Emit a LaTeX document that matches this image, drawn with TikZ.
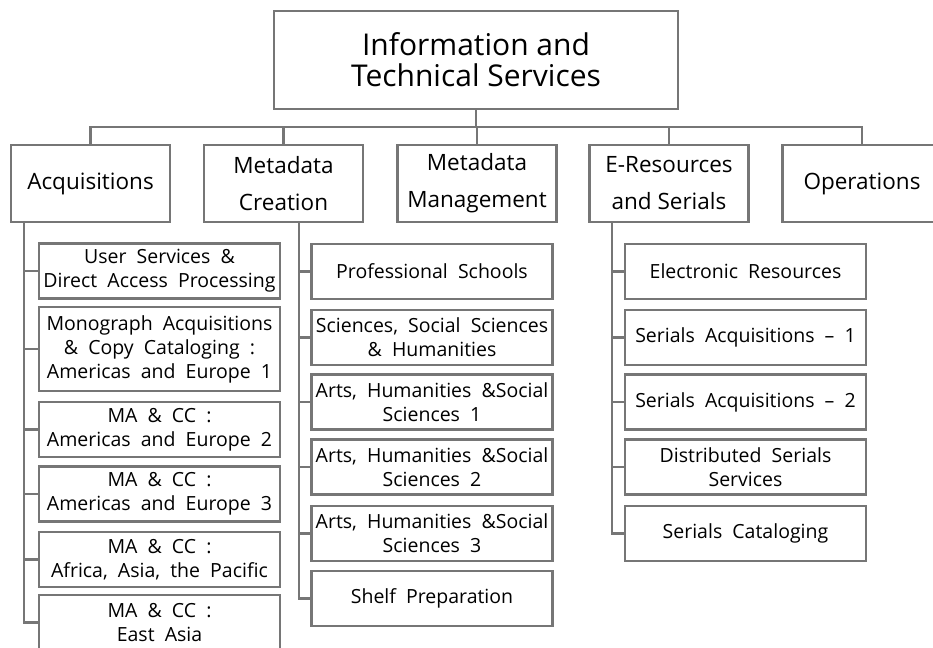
\documentclass[tikz,border=0pt]{standalone}
\usepackage{fontspec}
\setmainfont{Open Sans}
\newfontfamily\unitfont[WordSpace=2.0]{Open Sans}
\usetikzlibrary{positioning}
\definecolor{linegray}{RGB}{118,118,118}

\begin{document}
\begin{tikzpicture}[
    x=1pt, y=-1pt,
    head/.style={rectangle, draw=linegray, line width=2.5pt, minimum width=404pt, minimum height=98pt, align=center, font=\fontsize{30}{31}\selectfont},
    dept/.style={rectangle, draw=linegray, line width=2.5pt, minimum width=159pt, minimum height=77pt, inner sep=2pt, align=center, font=\fontsize{22.5}{37}\selectfont},
    unit/.style={rectangle, draw=linegray, line width=2.5pt, minimum width=241pt, minimum height=55pt, inner sep=1pt, align=center, font=\unitfont\fontsize{19.5}{24}\selectfont},
    link/.style={draw=linegray, line width=2.5pt}
]

\useasboundingbox (0,0) rectangle (933,647);
\clip (0,0) rectangle (933,647);

% top and departments
\node[head] (its) at (476,60) {Information and\\Technical Services};

\node[dept] (acq) at (90.5,183.5) {Acquisitions};
\node[dept] (mcr) at (283.5,183.5) {Metadata\\Creation};
\node[dept] (mmg) at (477,183.5) {Metadata\\Management};
\node[dept] (ers) at (669,183.5) {E-Resources\\and Serials};
\node[dept] (ops) at (862,183.5) {Operations};

\coordinate (bus) at (476,127);
\draw[link] (its.south) -- (bus);
\draw[link] (acq.north) |- (bus) -| (ops.north);
\draw[link] (mcr.north) -- (mcr.north |- bus);
\draw[link] (mmg.north) -- (mmg.north |- bus);
\draw[link] (ers.north) -- (ers.north |- bus);

% acquisitions units
\node[unit] (usr) at (159.5,271) {User Services \&\\Direct Access Processing};
\node[unit, minimum height=84pt] (mono) at (159.5,349) {Monograph Acquisitions\\\& Copy Cataloging :\\Americas and Europe 1};
\node[unit] (ae2) at (159.5,429.5) {MA \& CC :\\Americas and Europe 2};
\node[unit] (ae3) at (159.5,494) {MA \& CC :\\Americas and Europe 3};
\node[unit] (aap) at (159.5,559.5) {MA \& CC :\\Africa, Asia, the Pacific};
\node[unit] (eas) at (159.5,622.5) {MA \& CC :\\East Asia};

% metadata creation units
\node[unit] (pro) at (432,271.5) {Professional Schools};
\node[unit] (ssh) at (432,337.5) {Sciences, Social Sciences\\\& Humanities};
\node[unit] (ahs1) at (432,402) {Arts, Humanities \&Social\\Sciences 1};
\node[unit] (ahs2) at (432,467) {Arts, Humanities \&Social\\Sciences 2};
\node[unit] (ahs3) at (432,533.5) {Arts, Humanities \&Social\\Sciences 3};
\node[unit] (shp) at (432,598.5) {Shelf Preparation};

% e-resources units
\node[unit] (ele) at (745.5,271.5) {Electronic Resources};
\node[unit] (sa1) at (745.5,337.5) {Serials Acquisitions – 1};
\node[unit] (sa2) at (745.5,402) {Serials Acquisitions – 2};
\node[unit] (dss) at (745.5,467) {Distributed Serials\\Services};
\node[unit] (scat) at (745.5,533.5) {Serials Cataloging};

% trunks
\coordinate (acqt) at (24,223);
\coordinate (mcrt) at (299,223);
\coordinate (erst) at (612,223);

\draw[link] (acqt) |- (eas.west);
\foreach \u in {usr,mono,ae2,ae3,aap}
    \draw[link] (\u.west) -- (\u.west -| acqt);

\draw[link] (mcrt) |- (shp.west);
\foreach \u in {pro,ssh,ahs1,ahs2,ahs3}
    \draw[link] (\u.west) -- (\u.west -| mcrt);

\draw[link] (erst) |- (scat.west);
\foreach \u in {ele,sa1,sa2,dss}
    \draw[link] (\u.west) -- (\u.west -| erst);

\end{tikzpicture}
\end{document}
